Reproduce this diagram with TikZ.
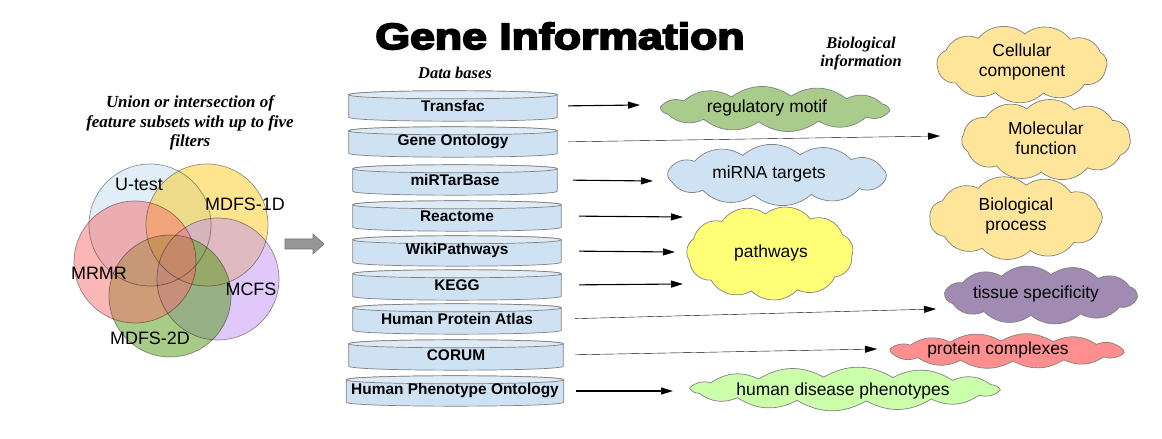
\documentclass[tikz,border=0pt]{standalone}
\usepackage{fontspec}
\usepackage{graphicx}
\setmainfont{Liberation Sans}
\newfontfamily\serifbi{Liberation Serif}
\newfontfamily\titlefont{Liberation Sans}[BoldFeatures={FakeBold=4.5}]
\usetikzlibrary{arrows.meta,backgrounds}
\definecolor{vblue}{RGB}{195,221,241}
\definecolor{vyellow}{RGB}{251,201,27}
\definecolor{vred}{RGB}{247,109,109}
\definecolor{vpurple}{RGB}{193,145,245}
\definecolor{vgreen}{RGB}{81,153,17}
\definecolor{dbbody}{RGB}{207,226,243}
\definecolor{dbtop}{RGB}{222,235,247}
\definecolor{dbline}{RGB}{128,128,128}
\definecolor{cloudline}{RGB}{128,128,128}
\definecolor{cgreen}{RGB}{169,204,140}
\definecolor{cblue}{RGB}{207,226,243}
\definecolor{cyellow}{RGB}{255,255,119}
\definecolor{cgold}{RGB}{255,229,153}
\definecolor{cpurple}{RGB}{161,139,179}
\definecolor{cred}{RGB}{255,143,143}
\definecolor{clime}{RGB}{204,255,170}
\definecolor{garrow}{RGB}{150,150,150}
\definecolor{thin}{RGB}{200,200,200}
\tikzset{
  dbnode/.style={inner sep=0pt, minimum height=22bp, font=\bfseries\fontsize{15.5}{18}\selectfont},
  dbrim/.style={draw=dbline, line width=0.7bp},
  cloudtxt/.style={inner sep=0pt, align=center, font=\fontsize{17.5}{20}\selectfont},
  cloudrim/.style={draw=cloudline, line width=0.7bp},
  vennlbl/.style={inner sep=0pt, font=\fontsize{18}{20}\selectfont},
  seriflbl/.style={inner sep=0pt, align=center, font=\serifbi\bfseries\itshape\fontsize{16.5}{19.5}\selectfont},
  blk/.style={line width=1.1bp, black, -{Triangle[length=12bp,width=7bp]}},
  gry/.style={line width=1bp, thin, -{Triangle[length=12bp,width=7bp,color=black]}},
  vfill/.style={fill=#1, fill opacity=0.5},
  vline/.style={draw=black, draw opacity=0.4, line width=0.7bp}
}
% #1 colour, #2 cx, #3 cy, #4 rx, #5 ry, #6 puffs, #7 bend, #8 phase
\newcommand\cloudpath[8]{%
  \path[cloudrim, fill=#1] ({#2+#4*cos(#8)},{#3+#5*sin(#8)})
    \foreach \k in {1,...,#6}{ to[bend left=#7] ({#2+#4*cos(\k*360/#6+#8)},{#3+#5*sin(\k*360/#6+#8)}) } -- cycle;}
\begin{document}
\begin{tikzpicture}[x=1bp,y=-1bp]
\useasboundingbox (0,0) rectangle (1162,439);

% title and headings
\node[inner sep=0pt] (title) at (560,36) {\titlefont\bfseries\fontsize{37}{40}\selectfont\scalebox{1.21}[1]{Gene Information}};
\node[seriflbl] (dbhead) at (455,73) {Data bases};
\node[seriflbl, font=\serifbi\bfseries\itshape\fontsize{16.5}{18}\selectfont] (biohead) at (861,54) {Biological\\information};
\node[seriflbl, font=\serifbi\bfseries\itshape\fontsize{17}{19.5}\selectfont] (union) at (190,123) {Union or intersection of\\feature subsets with up to five\\filters};

% Venn diagram
\fill[vfill=vblue] (150,225) circle[radius=61bp];
\fill[vfill=vyellow] (207,225) circle[radius=61bp];
\fill[vfill=vpurple] (218,279) circle[radius=61bp];
\fill[vfill=vgreen] (170,296) circle[radius=61bp];
\fill[vfill=vred] (135,262) circle[radius=61bp];
\draw[vline] (150,225) circle[radius=61bp];
\draw[vline] (207,225) circle[radius=61bp];
\draw[vline] (218,279) circle[radius=61bp];
\draw[vline] (170,296) circle[radius=61bp];
\draw[vline] (135,262) circle[radius=61bp];
\node[vennlbl] (utest) at (139,184) {U-test};
\node[vennlbl] (mdfs1) at (245,204) {MDFS-1D};
\node[vennlbl] (mrmr) at (99,273) {MRMR};
\node[vennlbl] (mcfs) at (251,289) {MCFS};
\node[vennlbl] (mdfs2) at (150,338) {MDFS-2D};

% gray block arrow
\draw[fill=garrow, draw=gray!90!black, line width=0.6bp] (285,239) -- (313,239) -- (313,234) -- (324,244) -- (313,254) -- (313,249) -- (285,249) -- cycle;

% databases
\node[dbnode, minimum width=208bp] (transfac) at (453,106) {Transfac};
\node[dbnode, minimum width=208bp] (go) at (453,142) {Gene Ontology};
\node[dbnode, minimum width=204bp] (mir) at (455,180) {miRTarBase};
\node[dbnode, minimum width=208bp] (react) at (457,216) {Reactome};
\node[dbnode, minimum width=208bp] (wiki) at (457,251) {WikiPathways};
\node[dbnode, minimum width=208bp] (kegg) at (457,285) {KEGG};
\node[dbnode, minimum width=208bp] (hpa) at (457,319) {Human Protein Atlas};
\node[dbnode, minimum width=214bp] (corum) at (456,355) {CORUM};
\node[dbnode, minimum width=217bp] (hpo) at (455,391) {Human Phenotype Ontology};

% clouds (text nodes)
\node[cloudtxt] (regm) at (767,108) {regulatory motif};
\node[cloudtxt] (mirna) at (769,174) {miRNA targets};
\node[cloudtxt] (path) at (771,253) {pathways};
\node[cloudtxt] (cell) at (1022,62) {Cellular\\component};
\node[cloudtxt] (mol) at (1046,138) {Molecular\\function};
\node[cloudtxt] (bio) at (1016,216) {Biological\\process};
\node[cloudtxt] (tissue) at (1036,294) {tissue specificity};
\node[cloudtxt] (prot) at (998,350) {protein complexes};
\node[cloudtxt] (hdp) at (843,391) {human disease phenotypes};

\begin{pgfonlayer}{background}
\foreach \n in {transfac,go,mir,react,wiki,kegg,hpa,corum,hpo}{
  \draw[dbrim, fill=dbbody] (\n.north west) -- (\n.south west) .. controls +(0,5.3) and +(0,5.3) .. (\n.south east) -- (\n.north east) .. controls +(0,-5.3) and +(0,-5.3) .. (\n.north west) -- cycle;
  \draw[dbrim, fill=dbtop] (\n.north west) .. controls +(0,-5.3) and +(0,-5.3) .. (\n.north east) .. controls +(0,5.3) and +(0,5.3) .. (\n.north west) -- cycle;
}
\cloudpath{cgreen}{775}{109}{116}{13}{12}{35}{8}
\cloudpath{cblue}{777}{175}{111}{20.5}{12}{40}{12}
\cloudpath{cyellow}{770}{253}{82}{39}{11}{45}{5}
\cloudpath{cgold}{1022}{64}{85}{30}{11}{45}{10}
\cloudpath{cgold}{1046}{140}{84}{32}{11}{45}{-5}
\cloudpath{cgold}{1016}{218}{86}{33}{11}{45}{15}
\cloudpath{cpurple}{1041}{295}{97}{20.5}{12}{40}{6}
\cloudpath{cred}{1007}{351}{119}{10}{14}{30}{10}
\cloudpath{clime}{845}{389}{156}{12}{14}{30}{5}
\end{pgfonlayer}

% arrow end points
\coordinate (e1) at (640,105);
\coordinate (e2) at (940,136);
\coordinate (e3) at (653,181);
\coordinate (e4) at (683,217);
\coordinate (e5) at (675,252);
\coordinate (e6) at (683,284);
\coordinate (e7) at (936,309);
\coordinate (e8) at (877,349);
\coordinate (e9) at (673,391);

\draw[blk, shorten <=11bp] (transfac.east) -- (e1);
\draw[gry, shorten <=11bp] (go.east) -- (e2);
\draw[blk, shorten <=16bp] (mir.east) -- (e3);
\draw[blk, shorten <=18bp] (react.east) -- (e4);
\draw[blk, shorten <=18bp] (wiki.east) -- (e5);
\draw[blk, shorten <=18bp] (kegg.east) -- (e6);
\draw[gry, shorten <=14bp] (hpa.east) -- (e7);
\draw[gry, shorten <=12bp] (corum.east) -- (e8);
\draw[blk, shorten <=12bp] (hpo.east) -- (e9);
\end{tikzpicture}
\end{document}
